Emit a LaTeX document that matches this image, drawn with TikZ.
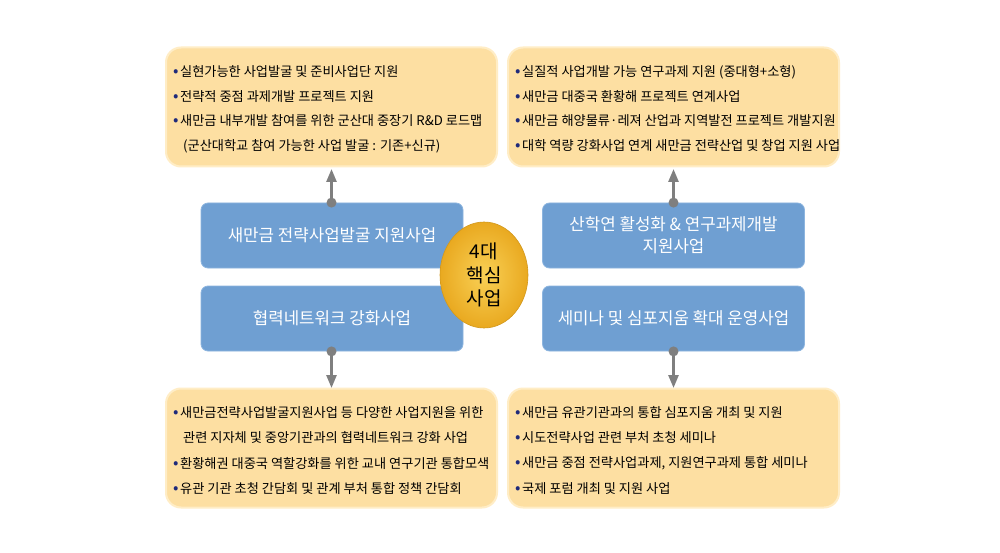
\documentclass[tikz,border=0pt]{standalone}
\usepackage{fontspec}
\setmainfont{Noto Sans CJK KR}
\usetikzlibrary{arrows.meta,shapes.geometric}
\definecolor{obfill}{HTML}{FDDFA2}
\definecolor{obedge}{HTML}{FFEDC6}
\definecolor{bbfill}{HTML}{6F9FD2}
\definecolor{bbedge}{HTML}{8DB5DF}
\definecolor{goldin}{HTML}{F9D055}
\definecolor{goldout}{HTML}{E9A920}
\definecolor{arrowgray}{HTML}{7F7F7F}
\definecolor{navy}{HTML}{1F2A7A}
\tikzset{
  obox/.style={draw=obedge, line width=2pt, fill=obfill, rounded corners=15pt, minimum width=331pt, minimum height=119pt},
  bbox/.style={draw=bbedge, line width=0.8pt, fill=bbfill, rounded corners=7pt, minimum width=262pt, minimum height=65pt, text=white, font=\fontsize{16.8}{22}\selectfont, align=center},
  core/.style={ellipse, draw=goldout!90!black, line width=0.6pt, inner color=goldin, outer color=goldout, minimum width=88pt, minimum height=106pt, font=\fontsize{19}{23.5}\selectfont, align=center},
  itemline/.style={anchor=west, font=\fontsize{13.2}{15}\selectfont, inner sep=0pt},
  conn/.style={draw=arrowgray, line width=2.6pt, -{Triangle[length=13pt,width=10pt]}},
  dotc/.style={circle, fill=arrowgray, inner sep=0pt, minimum size=10pt}
}
\newcommand{\bul}{\textcolor{navy}{\fontsize{16}{12}\selectfont•}\hspace{1.5pt}}
\begin{document}
\begin{tikzpicture}[x=1pt,y=-1pt]
\useasboundingbox[fill=white] (0,0) rectangle (1000,553);
% orange boxes
\node[obox] (otl) at (331.5,107) {};
\node[obox] (otr) at (673.5,107) {};
\node[obox] (obl) at (331.5,448) {};
\node[obox] (obr) at (673.5,448) {};
% blue boxes
\node[bbox] (btl) at (332,235.5) {새만금 전략사업발굴 지원사업};
\node[bbox] (btr) at (673.5,235.5) {산학연 활성화 \& 연구과제개발\\지원사업};
\node[bbox] (bbl) at (332,318.5) {협력네트워크 강화사업};
\node[bbox] (bbr) at (673.5,318.5) {세미나 및 심포지움 확대 운영사업};
% centre
\node[core] (c) at (484,275) {4대\\핵심\\사업};
% connectors
\coordinate (atl) at (331.5,169);
\coordinate (atr) at (673.5,169);
\coordinate (abl) at (331.5,388);
\coordinate (abr) at (673.5,388);
\draw[conn] (btl.north -| atl) -- (atl);
\draw[conn] (btr.north -| atr) -- (atr);
\draw[conn] (bbl.south -| abl) -- (abl);
\draw[conn] (bbr.south -| abr) -- (abr);
\node[dotc] (dtl) at (btl.north -| atl) {};
\node[dotc] (dtr) at (btr.north -| atr) {};
\node[dotc] (dbl) at (bbl.south -| abl) {};
\node[dotc] (dbr) at (bbr.south -| abr) {};
% top-left text
\node[itemline] (tl1) at (173,72) {\bul 실현가능한 사업발굴 및 준비사업단 지원};
\node[itemline] (tl2) at (173,96.5) {\bul 전략적 중점 과제개발 프로젝트 지원};
\node[itemline] (tl3) at (173,121) {\bul 새만금 내부개발 참여를 위한 군산대 중장기 R\&D 로드맵};
\node[itemline] (tl4) at (183,146) {(군산대학교 참여 가능한 사업 발굴 : 기존+신규)};
% top-right text
\node[itemline] (tr1) at (515,72) {\bul 실질적 사업개발 가능 연구과제 지원 (중대형+소형)};
\node[itemline] (tr2) at (515,96.5) {\bul 새만금 대중국 환황해 프로젝트 연계사업};
\node[itemline] (tr3) at (515,121) {\bul 새만금 해양물류·레져 산업과 지역발전 프로젝트 개발지원};
\node[itemline] (tr4) at (515,146) {\bul 대학 역량 강화사업 연계 새만금 전략산업 및 창업 지원 사업};
% bottom-left text
\node[itemline] (bl1) at (173,413) {\bul 새만금전략사업발굴지원사업 등 다양한 사업지원을 위한};
\node[itemline] (bl2) at (183,438) {관련 지자체 및 중앙기관과의 협력네트워크 강화 사업};
\node[itemline] (bl3) at (173,463.5) {\bul 환황해권 대중국 역할강화를 위한 교내 연구기관 통합모색};
\node[itemline] (bl4) at (173,489) {\bul 유관 기관 초청 간담회 및 관계 부처 통합 정책 간담회};
% bottom-right text
\node[itemline] (br1) at (515,413) {\bul 새만금 유관기관과의 통합 심포지움 개최 및 지원};
\node[itemline] (br2) at (515,438) {\bul 시도전략사업 관련 부처 초청 세미나};
\node[itemline] (br3) at (515,463.5) {\bul 새만금 중점 전략사업과제, 지원연구과제 통합 세미나};
\node[itemline] (br4) at (515,489) {\bul 국제 포럼 개최 및 지원 사업};
\end{tikzpicture}
\end{document}
